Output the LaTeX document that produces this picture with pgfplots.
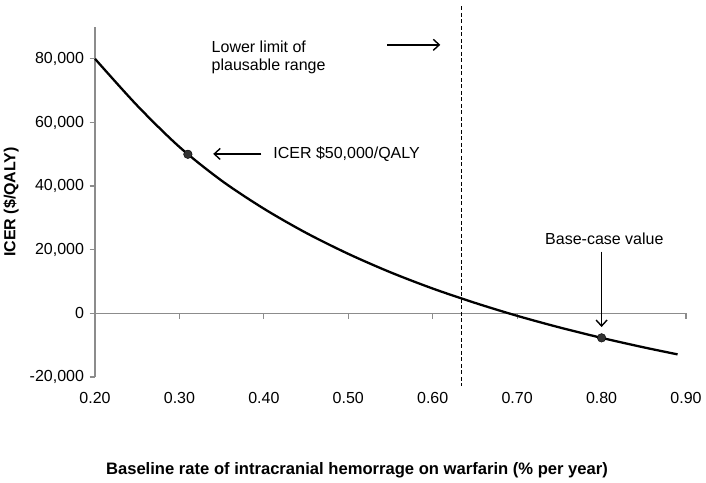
\documentclass[border=0pt]{standalone}
\usepackage{pgfplots}
\pgfplotsset{compat=1.18}
\usepackage{fontspec}
\setmainfont{Liberation Sans}
\usetikzlibrary{arrows.meta}

\definecolor{axisgray}{HTML}{8C8C8C}
\definecolor{markgray}{HTML}{333333}

\begin{document}
\begin{tikzpicture}[font=\fontsize{16bp}{19bp}\selectfont]
  \begin{axis}[
    name=ax,
    scale only axis,
    width=591bp, height=350bp,
    xmin=0.2, xmax=0.9,
    ymin=-20000, ymax=90000,
    scaled y ticks=false,
    axis x line=middle,
    axis y line=left,
    axis line style={-, draw=axisgray, line width=1.2bp},
    hide obscured x ticks=false,
    hide obscured y ticks=false,
    xtick={0.2,0.3,0.4,0.5,0.6,0.7,0.8,0.9},
    xticklabels={0.20,0.30,0.40,0.50,0.60,0.70,0.80,0.90},
    ytick={-20000,0,20000,40000,60000,80000},
    yticklabels={{-20,000},{0},{20,000},{40,000},{60,000},{80,000}},
    tick align=outside,
    major tick length=5.5bp,
    tick style={draw=axisgray, line width=1.2bp},
    xticklabel style={yshift=-70bp},
    yticklabel style={xshift=-2bp},
    clip=false,
  ]
    % ICER curve
    \addplot[black, line width=2.3bp, smooth] coordinates {
      (0.20,80000) (0.25,65300) (0.30,52300) (0.35,41700) (0.40,32900)
      (0.45,25300) (0.50,18700) (0.55,12900) (0.60,7800) (0.65,3300)
      (0.70,-770) (0.75,-4410) (0.80,-7700) (0.85,-10690) (0.89,-12890)
    };
    % highlighted points
    \addplot[only marks, mark=*, mark size=4.3bp,
      mark options={fill=markgray, draw=black}] coordinates {
      (0.31,50000) (0.80,-7700)
    };
    % lower limit of plausible range
    \addplot[black, line width=1.5bp, dash pattern=on 4bp off 2.5bp] coordinates {
      (0.634,96500) (0.634,-22800)
    };

    \draw[black, line width=1.4bp, -{Straight Barb[length=6bp,width=11bp]}]
      (axis cs:0.546,84400) -- (axis cs:0.609,84400);
    \draw[black, line width=1.4bp, -{Straight Barb[length=6bp,width=11bp]}]
      (axis cs:0.397,50100) -- (axis cs:0.340,50100);
    \draw[black, line width=1.4bp, -{Straight Barb[length=6bp,width=11bp]}]
      (axis cs:0.80,19400) -- (axis cs:0.80,-4300);

    \node[anchor=base west, inner sep=0pt] at (axis cs:0.338,82070) {Lower limit of};
    \node[anchor=base west, inner sep=0pt] at (axis cs:0.338,76470) {plausable range};
    \node[anchor=base west, inner sep=0pt] at (axis cs:0.411,48660) {ICER \$50,000/QALY};
    \node[anchor=base west, inner sep=0pt] at (axis cs:0.733,21490) {Base-case value};

    % axis titles
    \node[anchor=base, inner sep=0pt, font=\fontsize{16.6bp}{19bp}\selectfont\bfseries]
      at ([xshift=262bp, yshift=-98bp]rel axis cs:0,0)
      {Baseline rate of intracranial hemorrage on warfarin (\% per year)};
    \node[rotate=90, anchor=center, inner sep=0pt, font=\fontsize{16bp}{19bp}\selectfont\bfseries]
      at ([xshift=-84bp]rel axis cs:0,0.5) {ICER (\$/QALY)};
  \end{axis}
  \pgfresetboundingbox
  \path[use as bounding box] ([shift={(-95bp,-106bp)}]ax.south west)
    rectangle ([shift={(20bp,27bp)}]ax.north east);
\end{tikzpicture}
\end{document}
